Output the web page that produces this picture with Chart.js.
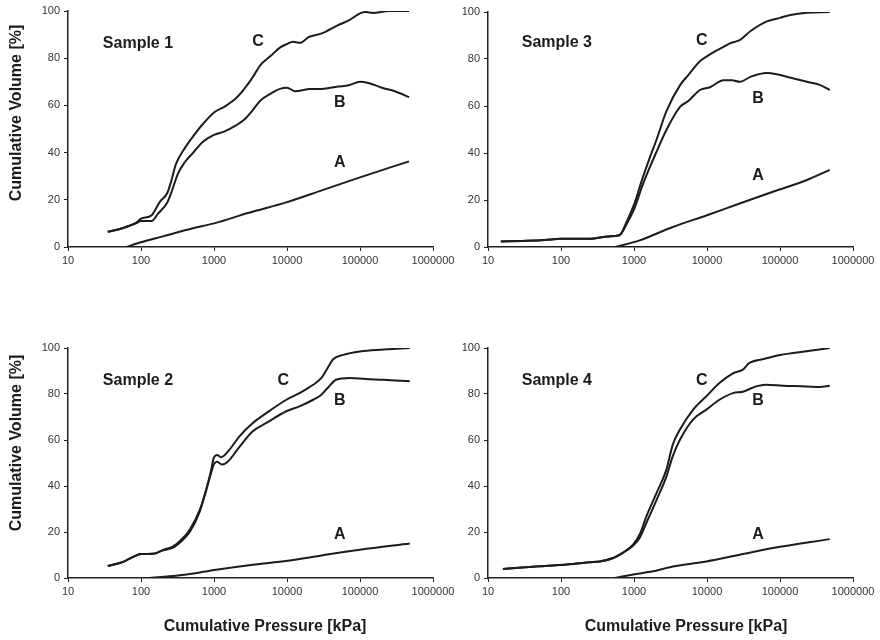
<!DOCTYPE html>
<html>
<head>
<meta charset="utf-8">
<script src="https://cdn.jsdelivr.net/npm/chart.js@4/dist/chart.umd.min.js"></script>
<style>
  body { margin: 0; background: #fff; width: 880px; height: 640px; position: relative; overflow: hidden; }
  canvas { position: absolute; }
</style>
</head>
<body>
<canvas id="c1" width="470" height="280" style="left:0;top:0"></canvas>
<canvas id="c3" width="440" height="280" style="left:440px;top:0"></canvas>
<canvas id="c2" width="470" height="310" style="left:0;top:330px"></canvas>
<canvas id="c4" width="440" height="310" style="left:440px;top:330px"></canvas>
<script>
// pressure tick labels (kPa), log axis
const pressureTicks = [10, 100, 1000, 10000, 100000, 1000000];

// [pressure kPa, cumulative volume %]
const s1A = [[63,0],[100,2],[200,4.5],[500,7.8],[1000,10],[3000,14.5],[10000,19],[30000,24],[100000,29.5],[470000,36.3]];
const s1B = [[35,6.5],[50,7.5],[65,8.7],[85,10],[100,11],[140,11],[170,14],[230,19],[260,23],[320,31],[400,36],[520,40],[700,44.5],[1000,47.5],
  [1400,49],[2000,51.5],[2600,54],[3400,58],[4300,62],[6000,65],[8000,67],[10000,67.5],[13000,66],[17000,66.5],[20000,67],[30000,67],
  [50000,68],[70000,68.5],[100000,70],[130000,69.5],[200000,67.5],[300000,66],[470000,63.5]];
const s1C = [[35,6.5],[50,7.5],[65,8.7],[85,10.2],[100,12],[140,13.5],[180,19],[230,23],[260,28],[300,35],[400,42],[520,47],[700,52],[1000,57],
  [1400,59.5],[2000,63],[2600,67],[3400,72],[4300,77],[6000,81],[8000,84.5],[10000,86],[12000,87],[15000,86.5],[20000,89],[30000,90.5],
  [50000,94],[70000,96],[100000,99],[120000,99.6],[150000,99.2],[250000,100],[470000,100]];

const s2A = [[130,0],[420,1.5],[1070,3.6],[3400,5.8],[10200,7.5],[31000,9.9],[100000,12.3],[480000,15]];
const s2B = [[35,5.2],[57,7],[78,9.2],[100,10.4],[146,10.5],[200,12],[275,13.2],[357,16],[465,20],[640,29],[780,38],[900,45],[1000,49.5],
  [1100,50.5],[1300,49.3],[1540,50.5],[2230,57],[3400,63.8],[5200,67.4],[9800,72.5],[14800,74.6],[22800,77.5],[29600,79.7],[36000,82.6],
  [47000,86.2],[72000,87],[120000,86.5],[209000,86.2],[480000,85.5]];
const s2C = [[35,5.2],[57,7],[78,9.2],[100,10.4],[146,10.5],[200,12.2],[275,13.8],[357,16.7],[465,21],[640,29.7],[780,38.4],[900,46],[1000,52.5],
  [1100,53.5],[1250,52.5],[1630,55.8],[2230,61.6],[3400,67.4],[5200,71.7],[9800,77.5],[14800,80.4],[22800,84],[29600,87],[36000,91.3],
  [42600,95],[59000,97],[100000,98.5],[209000,99.3],[480000,100]];

const s3A = [[550,0],[1200,2.8],[1800,5],[3400,8.5],[10000,13.5],[28000,18.5],[80000,23.5],[230000,28.4],[480000,32.8]];
const s3B = [[15,2.3],[30,2.6],[60,3],[100,3.5],[250,3.5],[450,4.5],[630,5],[800,10],[1000,16],[1300,26],[1600,33],[2000,40],[2800,50],
  [4300,59.7],[5500,62],[8000,66.8],[11000,68],[16800,71],[22000,71],[28000,70.3],[40000,72.5],[66000,74],[90000,73.5],[140000,72],
  [234000,70.3],[350000,69],[480000,66.8]];
const s3C = [[15,2.3],[30,2.6],[60,3],[100,3.5],[250,3.5],[450,4.5],[630,5],[800,11],[1000,18],[1300,29],[1600,37],[2000,45],[2800,58],
  [4300,69],[5500,73],[8000,79],[11000,82],[16800,85.2],[22000,87],[28000,88],[40000,92],[66000,96],[100000,97.5],[138000,98.7],
  [234000,99.7],[480000,100]];

const s4A = [[550,0],[970,1.5],[1820,2.9],[3400,5],[9800,7.2],[28000,10.1],[80000,13],[480000,16.9]];
const s4B = [[16,3.9],[51,5.1],[146,6.1],[245,6.8],[340,7.2],[520,8.7],[700,10.9],[970,14],[1200,17.5],[1480,24],[2040,34],[2770,44],
  [3400,53],[4240,60],[6470,69],[9800,73.2],[14800,77.5],[22700,80.4],[31000,81],[47000,83.3],[64000,84],[110000,83.6],[230000,83.3],
  [350000,83],[480000,83.6]];
const s4C = [[16,3.9],[51,5.1],[146,6.1],[245,6.8],[340,7.2],[520,8.7],[700,10.9],[970,14.5],[1200,19],[1480,26.8],[2040,37],[2770,47],
  [3400,58],[4240,64.5],[6470,73.2],[9800,79],[14800,84.8],[22700,89],[31000,90.6],[38000,93.5],[59000,95.2],[100000,97],[152000,97.8],
  [480000,100]];

const FONT = '"Liberation Sans", Arial, Helvetica, sans-serif';
const INK = '#1c1c1c';

// text drawn at data coordinates + the axis titles
const labelPlugin = {
  id: 'labels',
  afterDraw(chart, args, o) {
    const ctx = chart.ctx, sx = chart.scales.x, sy = chart.scales.y;
    ctx.save();
    ctx.fillStyle = INK;
    ctx.textBaseline = 'middle';
    ctx.font = 'bold 16px ' + FONT;
    o.tags.forEach(t => {
      ctx.textAlign = t.align || 'center';
      ctx.fillText(t.text, sx.getPixelForValue(t.x), sy.getPixelForValue(t.y));
    });
    ctx.textAlign = 'center';
    if (o.yTitle) {
      ctx.save();
      ctx.translate(o.yTitle.x, o.yTitle.y);
      ctx.rotate(-Math.PI / 2);
      ctx.fillText('Cumulative Volume [%]', 0, 0);
      ctx.restore();
    }
    if (o.xTitle) ctx.fillText('Cumulative Pressure [kPa]', o.xTitle.x, o.xTitle.y);
    ctx.restore();
  }
};

function makeChart(id, sample, curves, tags, box) {
  const line = d => ({
    data: d.map(p => ({ x: p[0], y: p[1] })),
    borderColor: INK, borderWidth: 2, pointRadius: 0,
    cubicInterpolationMode: 'monotone', fill: false
  });
  new Chart(document.getElementById(id), {
    type: 'line',
    data: { datasets: curves.map(line) },
    options: {
      responsive: false, animation: false, events: [],
      layout: { padding: { top: box.top, right: box.right, left: 0, bottom: 0 } },
      plugins: {
        legend: { display: false }, tooltip: { enabled: false },
        labels: {
          tags: [{ text: sample, x: tags[0][0], y: tags[0][1], align: 'left' }].concat(
            ['C', 'B', 'A'].map((t, i) => ({ text: t, x: tags[i + 1][0], y: tags[i + 1][1] }))),
          yTitle: box.yTitle, xTitle: box.xTitle
        }
      },
      scales: {
        x: {
          type: 'logarithmic', min: 10, max: 1000000,
          afterBuildTicks: s => { s.ticks = pressureTicks.map(v => ({ value: v })); },
          afterFit: s => { s.height = box.xh; },
          ticks: { callback: v => String(v), maxRotation: 0, autoSkip: false, color: '#333', padding: 3, font: { size: 11, family: FONT } },
          grid: { drawOnChartArea: false, tickLength: 4, color: '#222' },
          border: { color: '#222', width: 1.5 }
        },
        y: {
          min: 0, max: 100,
          afterFit: s => { s.width = box.yw; },
          ticks: { stepSize: 20, color: '#333', padding: 4, font: { size: 11, family: FONT } },
          grid: { drawOnChartArea: false, tickLength: 4, color: '#222' },
          border: { color: '#222', width: 1.5 }
        }
      }
    },
    plugins: [labelPlugin]
  });
}

makeChart('c1', 'Sample 1', [s1A, s1B, s1C], [[30, 86.4], [4000, 87], [53000, 61], [53000, 35.6]],
  { top: 11, right: 37, xh: 33, yw: 68, yTitle: { x: 17, y: 113 } });
makeChart('c3', 'Sample 3', [s3A, s3B, s3C], [[29, 87], [8500, 88], [50000, 63], [50000, 30.5]],
  { top: 12, right: 27, xh: 33, yw: 48 });
makeChart('c2', 'Sample 2', [s2A, s2B, s2C], [[30, 86], [8900, 86], [53000, 77], [53000, 18.7]],
  { top: 18, right: 37, xh: 62, yw: 68, yTitle: { x: 17, y: 113 }, xTitle: { x: 265, y: 297 } });
makeChart('c4', 'Sample 4', [s4A, s4B, s4C], [[29, 86], [8500, 86], [50000, 77], [50000, 18.7]],
  { top: 18, right: 27, xh: 62, yw: 48, xTitle: { x: 246, y: 297 } });
</script>
</body>
</html>
